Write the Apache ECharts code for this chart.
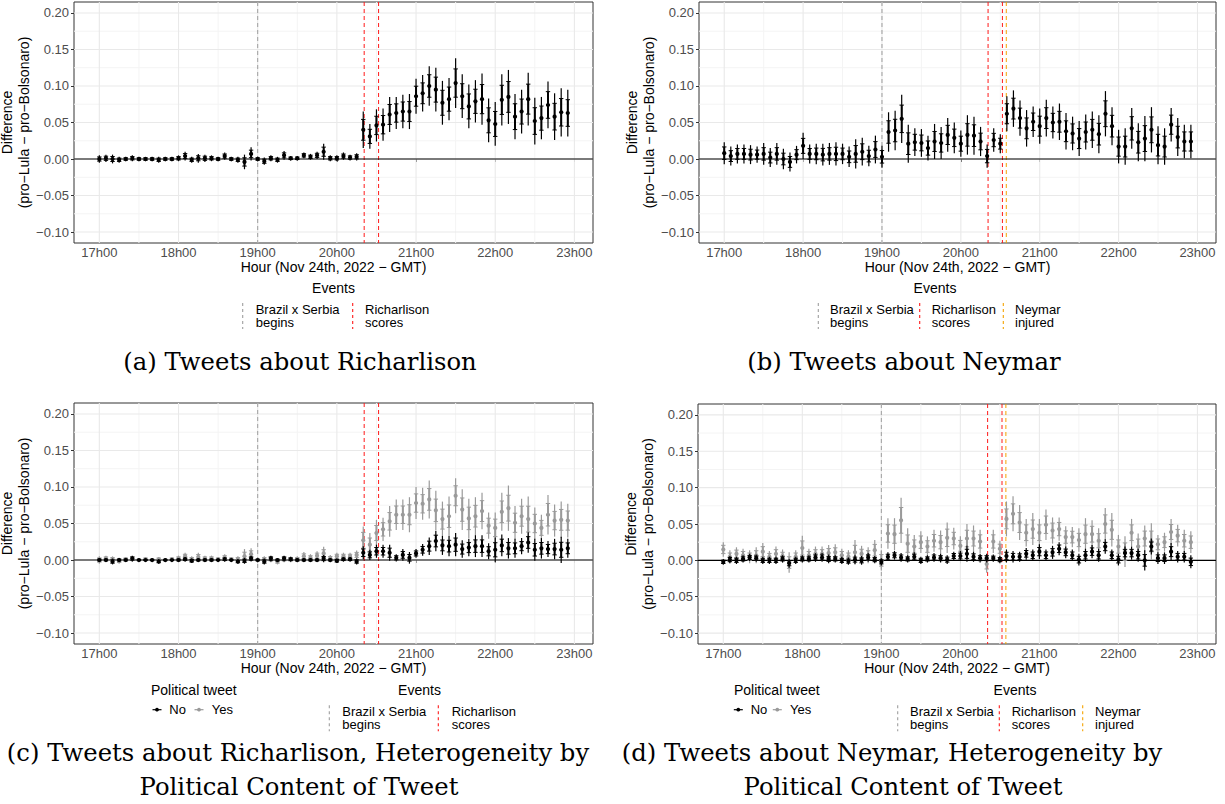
<!DOCTYPE html>
<html><head><meta charset="utf-8">
<script src="https://cdn.jsdelivr.net/npm/echarts@6.0.0/dist/echarts.min.js"></script>
<style>html,body{margin:0;padding:0;background:#fff;}#chart{width:1225px;height:804px;}</style>
</head><body><div id="chart"></div>
<script>
// ---------------- DATA ----------------
const times = [
"17:00","17:05","17:10","17:15","17:20","17:25","17:30","17:35","17:40","17:45","17:50","17:55",
"18:00","18:05","18:10","18:15","18:20","18:25","18:30","18:35","18:40","18:45","18:50","18:55",
"19:00","19:05","19:10","19:15","19:20","19:25","19:30","19:35","19:40","19:45","19:50","19:55",
"20:00","20:05","20:10","20:15","20:20","20:25","20:30","20:35","20:40","20:45","20:50","20:55",
"21:00","21:05","21:10","21:15","21:20","21:25","21:30","21:35","21:40","21:45","21:50","21:55",
"22:00","22:05","22:10","22:15","22:20","22:25","22:30","22:35","22:40","22:45","22:50","22:55"];

const xTicks = [17,18,19,20,21,22,23];
const xTickLabels = ["17h00","18h00","19h00","20h00","21h00","22h00","23h00"];
const xMinor = [17.5,18.5,19.5,20.5,21.5,22.5];
const yTicks = [-0.10,-0.05,0.00,0.05,0.10,0.15,0.20];
const yTickLabels = ["\u22120.10","\u22120.05","0.00","0.05","0.10","0.15","0.20"];
const yMinor = [-0.075,-0.025,0.025,0.075,0.125,0.175];

// event times (hours, GMT)
const eventBegins = [19.0];
const eventGoals = [20.345, 20.527];
const eventInjury = [20.576];
const eventLabels = ["Brazil x Serbia\nbegins","Richarlison\nscores","Neymar\ninjured"];

// (a) Richarlison
const richVal = [
0.000,0.001,0.000,-0.001,0.000,0.001,0.000,0.000,0.000,-0.001,0.000,0.000,
0.001,0.004,-0.001,0.001,0.001,0.001,0.000,0.004,0.000,-0.001,-0.004,0.007,
0.000,-0.003,0.001,-0.001,0.005,0.001,0.001,0.005,0.003,0.005,0.010,0.001,
0.001,0.004,0.002,0.003,0.040,0.031,0.046,0.047,0.061,0.063,0.065,0.065,
0.086,0.090,0.100,0.095,0.077,0.082,0.104,0.086,0.072,0.079,0.082,0.053,
0.048,0.081,0.085,0.058,0.065,0.082,0.052,0.056,0.074,0.058,0.064,0.063];
const richCi = [
0.005,0.005,0.006,0.004,0.003,0.004,0.003,0.003,0.003,0.004,0.003,0.003,
0.004,0.006,0.004,0.006,0.005,0.004,0.003,0.005,0.003,0.004,0.010,0.009,
0.003,0.005,0.004,0.004,0.006,0.003,0.003,0.004,0.004,0.005,0.011,0.004,
0.004,0.005,0.004,0.005,0.025,0.017,0.022,0.022,0.024,0.022,0.023,0.024,
0.024,0.025,0.027,0.030,0.030,0.029,0.034,0.030,0.030,0.029,0.035,0.030,
0.030,0.035,0.037,0.031,0.030,0.036,0.032,0.029,0.032,0.032,0.033,0.032];

// (b) Neymar
const neyVal = [
0.008,0.004,0.007,0.007,0.006,0.006,0.007,0.002,0.007,0.000,-0.004,0.006,
0.018,0.007,0.007,0.006,0.007,0.007,0.007,0.003,0.007,0.010,0.004,0.013,
0.003,0.037,0.039,0.055,0.021,0.023,0.022,0.015,0.024,0.022,0.033,0.029,
0.021,0.033,0.032,0.024,0.004,0.026,0.021,0.062,0.069,0.056,0.042,0.051,
0.045,0.056,0.050,0.051,0.038,0.035,0.028,0.037,0.040,0.034,0.062,0.045,
0.017,0.017,0.042,0.023,0.028,0.040,0.019,0.017,0.047,0.030,0.024,0.024];
const neyCi = [
0.015,0.013,0.013,0.013,0.013,0.011,0.015,0.013,0.015,0.014,0.013,0.012,
0.018,0.013,0.014,0.015,0.015,0.016,0.014,0.014,0.020,0.019,0.014,0.019,
0.015,0.027,0.027,0.033,0.026,0.019,0.019,0.017,0.024,0.022,0.023,0.021,
0.018,0.027,0.026,0.020,0.016,0.016,0.013,0.024,0.025,0.024,0.025,0.021,
0.024,0.025,0.022,0.025,0.025,0.023,0.024,0.024,0.025,0.026,0.031,0.026,
0.023,0.025,0.028,0.026,0.031,0.031,0.026,0.025,0.023,0.026,0.023,0.023];

// (c) Richarlison by political content
const richNoVal = [
0.000,0.000,-0.002,0.000,0.000,0.002,0.000,0.000,0.000,-0.002,0.000,0.000,
0.000,0.001,-0.001,0.000,0.000,0.000,0.000,0.001,0.000,-0.002,-0.001,0.002,
0.000,-0.002,0.002,0.000,0.002,0.001,0.000,0.000,0.000,0.000,0.002,0.000,
-0.001,0.001,0.001,-0.002,0.010,0.007,0.012,0.012,0.010,0.003,0.007,0.003,
0.009,0.014,0.019,0.026,0.020,0.019,0.021,0.015,0.017,0.019,0.019,0.012,
0.014,0.020,0.016,0.016,0.019,0.024,0.014,0.016,0.015,0.015,0.014,0.016];
const richNoCi = [
0.002,0.002,0.004,0.002,0.002,0.004,0.001,0.001,0.001,0.003,0.001,0.001,
0.002,0.003,0.003,0.002,0.002,0.002,0.001,0.003,0.001,0.003,0.004,0.004,
0.001,0.004,0.004,0.002,0.004,0.003,0.002,0.002,0.002,0.002,0.005,0.002,
0.003,0.003,0.003,0.004,0.009,0.007,0.009,0.009,0.011,0.005,0.008,0.008,
0.006,0.008,0.012,0.014,0.013,0.014,0.016,0.012,0.012,0.015,0.015,0.011,
0.017,0.015,0.014,0.013,0.011,0.014,0.015,0.014,0.011,0.014,0.018,0.013];
const richYesVal = [
0.000,0.002,0.001,-0.001,0.001,0.001,0.000,0.001,0.000,0.001,0.000,0.001,
0.002,0.005,0.001,0.004,0.002,0.002,0.001,0.003,0.001,0.001,0.005,0.008,
0.000,0.001,0.001,-0.002,0.001,0.001,0.001,0.005,0.003,0.006,0.009,0.002,
0.005,0.005,0.005,0.007,0.027,0.021,0.037,0.042,0.053,0.062,0.062,0.062,
0.078,0.077,0.083,0.068,0.056,0.060,0.088,0.069,0.057,0.060,0.067,0.047,
0.044,0.066,0.071,0.051,0.060,0.056,0.050,0.044,0.062,0.054,0.055,0.054];
const richYesCi = [
0.005,0.004,0.004,0.004,0.003,0.003,0.002,0.003,0.002,0.003,0.002,0.003,
0.004,0.005,0.004,0.006,0.004,0.004,0.003,0.005,0.003,0.004,0.010,0.008,
0.003,0.004,0.004,0.004,0.004,0.004,0.004,0.006,0.005,0.006,0.009,0.005,
0.005,0.005,0.005,0.006,0.019,0.016,0.018,0.016,0.021,0.021,0.021,0.024,
0.022,0.022,0.026,0.027,0.024,0.027,0.024,0.028,0.027,0.026,0.025,0.018,
0.021,0.026,0.031,0.023,0.024,0.031,0.022,0.018,0.027,0.022,0.025,0.023];

// (d) Neymar by political content
const neyNoVal = [
-0.002,0.001,0.000,0.002,0.004,0.003,0.000,0.000,0.000,0.002,-0.004,0.000,
0.002,0.002,0.004,0.004,0.002,0.002,0.000,-0.001,0.001,0.000,0.004,0.001,
-0.002,0.005,0.007,0.004,0.002,0.005,0.000,0.002,0.004,0.003,0.001,0.006,
0.006,0.009,0.005,0.003,0.003,0.003,0.001,0.006,0.005,0.005,0.009,0.007,
0.012,0.007,0.011,0.016,0.011,0.007,0.001,0.007,0.012,0.007,0.019,0.007,
0.001,0.010,0.010,0.007,0.000,0.019,0.003,0.003,0.012,0.005,0.005,-0.002];
const neyNoCi = [
0.004,0.005,0.005,0.005,0.005,0.005,0.005,0.005,0.005,0.005,0.006,0.005,
0.005,0.005,0.006,0.006,0.006,0.005,0.005,0.005,0.006,0.006,0.006,0.005,
0.005,0.006,0.006,0.006,0.005,0.006,0.005,0.005,0.006,0.006,0.006,0.006,
0.007,0.011,0.007,0.006,0.006,0.005,0.005,0.009,0.008,0.007,0.008,0.008,
0.010,0.008,0.009,0.009,0.008,0.008,0.008,0.009,0.009,0.009,0.010,0.008,
0.008,0.009,0.009,0.009,0.014,0.011,0.008,0.008,0.012,0.008,0.008,0.009];
const neyYesVal = [
0.015,0.005,0.009,0.007,0.005,0.007,0.012,0.005,0.009,0.006,-0.003,0.005,
0.017,0.007,0.009,0.009,0.010,0.011,0.007,0.005,0.011,0.009,0.007,0.014,
0.000,0.037,0.036,0.055,0.023,0.019,0.025,0.019,0.027,0.025,0.031,0.030,
0.020,0.030,0.030,0.026,-0.005,0.026,0.016,0.057,0.064,0.052,0.038,0.043,
0.038,0.049,0.041,0.043,0.032,0.032,0.028,0.036,0.036,0.027,0.050,0.042,
0.019,0.012,0.038,0.019,0.030,0.026,0.022,0.025,0.039,0.034,0.027,0.025];
const neyYesCi = [
0.010,0.009,0.009,0.009,0.009,0.011,0.012,0.008,0.010,0.009,0.014,0.009,
0.017,0.009,0.010,0.010,0.011,0.011,0.009,0.009,0.017,0.011,0.011,0.014,
0.014,0.021,0.022,0.031,0.021,0.016,0.015,0.014,0.015,0.016,0.021,0.015,
0.013,0.020,0.018,0.016,0.012,0.016,0.011,0.024,0.024,0.024,0.019,0.022,
0.019,0.021,0.018,0.016,0.015,0.014,0.016,0.022,0.019,0.017,0.022,0.023,
0.016,0.021,0.019,0.018,0.018,0.025,0.013,0.013,0.018,0.015,0.015,0.015];

// ---------------- STYLE / LAYOUT ----------------
const SANS = '"Liberation Sans", Arial, Helvetica, sans-serif';
const SERIF = '"DejaVu Serif", serif';
const X_MIN = 16.68, X_MAX = 23.235;
const Y_MIN = -0.115, Y_MAX = 0.215;
const INNER = 0.57;
const BLACK = '#000000', GREY = '#9a9a9a';
const EV_GREY = '#9e9e9e', EV_RED = '#ff1a1a', EV_ORANGE = '#f5a300';
const CAP = 24.3;

const grids = [
  {left:74, top:2, width:519, height:241},
  {left:699, top:2, width:517, height:241},
  {left:74, top:403, width:519, height:241},
  {left:698, top:404, width:518, height:240}
];

function toHour(t){ const p = t.split(':'); return +p[0] + (+p[1])/60; }
const hours = times.map(toHour);

function vlines(gi, values, color, width, dash, z){
  return {type:'custom', xAxisIndex:gi, yAxisIndex:gi, z, silent:true, animation:false, clip:false,
    data: values.map(v=>[v,0]), encode:{x:0,y:1},
    renderItem(params, api){
      const cs = params.coordSys;
      const x = api.coord([api.value(0), 0])[0];
      return {type:'line', shape:{x1:x, y1:cs.y, x2:x, y2:cs.y+cs.height},
        style:{stroke:color, lineWidth:width, lineDash:dash||null, fill:null}};
    }};
}
function hlines(gi, values, color, width, z){
  return {type:'custom', xAxisIndex:gi, yAxisIndex:gi, z, silent:true, animation:false, clip:false,
    data: values.map(v=>[17,v]), encode:{x:0,y:1},
    renderItem(params, api){
      const cs = params.coordSys;
      const y = api.coord([17, api.value(1)])[1];
      return {type:'line', shape:{x1:cs.x, y1:y, x2:cs.x+cs.width, y2:y},
        style:{stroke:color, lineWidth:width, fill:null}};
    }};
}
function bars(gi, vals, cis, color, z){
  return {type:'custom', xAxisIndex:gi, yAxisIndex:gi, z, silent:true, animation:false,
    data: hours.map((h,i)=>[h, vals[i], cis[i]]), encode:{x:0,y:1},
    renderItem(params, api){
      const x = api.value(0), v = api.value(1), ci = api.value(2);
      const p = api.coord([x, v]);
      const t = api.coord([x, v+ci])[1], b = api.coord([x, v-ci])[1];
      const it = api.coord([x, v+ci*INNER])[1], ib = api.coord([x, v-ci*INNER])[1];
      const cx = p[0];
      return {type:'group', children:[
        {type:'line', shape:{x1:cx,y1:t,x2:cx,y2:b}, style:{stroke:color, lineWidth:1.2, fill:null}},
        {type:'line', shape:{x1:cx,y1:it,x2:cx,y2:ib}, style:{stroke:color, lineWidth:2, fill:null}},
        {type:'line', shape:{x1:cx-2.2,y1:it,x2:cx+2.2,y2:it}, style:{stroke:color, lineWidth:1, fill:null}},
        {type:'line', shape:{x1:cx-2.2,y1:ib,x2:cx+2.2,y2:ib}, style:{stroke:color, lineWidth:1, fill:null}},
        {type:'circle', shape:{cx:cx, cy:p[1], r:2.1}, style:{fill:color, stroke:null}}
      ]};
    }};
}

const panels = [
  {series:[{v:richVal, c:richCi, col:BLACK}], events:[[eventBegins,EV_GREY],[eventGoals,EV_RED]]},
  {series:[{v:neyVal, c:neyCi, col:BLACK}], events:[[eventBegins,EV_GREY],[eventGoals,EV_RED],[eventInjury,EV_ORANGE]]},
  {series:[{v:richYesVal, c:richYesCi, col:GREY},{v:richNoVal, c:richNoCi, col:BLACK}], events:[[eventBegins,EV_GREY],[eventGoals,EV_RED]]},
  {series:[{v:neyYesVal, c:neyYesCi, col:GREY},{v:neyNoVal, c:neyNoCi, col:BLACK}], events:[[eventBegins,EV_GREY],[eventGoals,EV_RED],[eventInjury,EV_ORANGE]]}
];

function labelFor(list, labels, v){
  for (let i=0;i<list.length;i++) if (Math.abs(list[i]-v) < 1e-6) return labels[i];
  return '';
}

const xAxes = [], yAxes = [], series = [];
grids.forEach((g, gi) => {
  xAxes.push({type:'value', gridIndex:gi, min:X_MIN, max:X_MAX,
    axisLine:{show:false}, splitLine:{show:false}, minorTick:{show:false},
    axisTick:{show:true, length:3, lineStyle:{color:'#333', width:1}, customValues:xTicks},
    axisLabel:{customValues:xTicks, formatter:v=>labelFor(xTicks,xTickLabels,v), color:'#4d4d4d', fontSize:13, fontFamily:SANS, margin:3},
    name:'Hour (Nov 24th, 2022 \u2212 GMT)', nameLocation:'middle', nameGap:14,
    nameTextStyle:{color:'#000', fontSize:14, fontFamily:SANS}});
  yAxes.push({type:'value', gridIndex:gi, min:Y_MIN, max:Y_MAX,
    axisLine:{show:false}, splitLine:{show:false}, minorTick:{show:false},
    axisTick:{show:true, length:3, lineStyle:{color:'#333', width:1}, customValues:yTicks},
    axisLabel:{customValues:yTicks, formatter:v=>labelFor(yTicks,yTickLabels,v), color:'#4d4d4d', fontSize:13, fontFamily:SANS, margin:5},
    name:'Difference\n(pro\u2212Lula \u2212 pro\u2212Bolsonaro)', nameLocation:'middle', nameGap:33,
    nameTextStyle:{color:'#000', fontSize:14, lineHeight:17, fontFamily:SANS, align:'center'}});
  series.push(vlines(gi, xMinor, '#f4f4f4', 1, null, 1));
  series.push(hlines(gi, yMinor, '#f4f4f4', 1, 1));
  series.push(vlines(gi, xTicks, '#e9e9e9', 1.1, null, 1));
  series.push(hlines(gi, yTicks, '#e9e9e9', 1.1, 1));
  panels[gi].events.forEach(e => series.push(vlines(gi, e[0], e[1], 1, [4,3], 2)));
  series.push(hlines(gi, [0], '#000', 1.1, 2));
  panels[gi].series.forEach((s, k) => series.push(bars(gi, s.v, s.c, s.col, 3+k)));
});

// ---------------- LEGENDS & CAPTIONS (graphic) ----------------
const G = [];
function txt(x, y, text, size, align, family, lh){
  G.push({type:'text', silent:true, style:{x, y, text, fill:'#000',
    font: size + 'px ' + (family||SANS), fontSize:size, fontFamily:(family||SANS),
    align:align||'left', textAlign:align||'left', verticalAlign:'middle', textVerticalAlign:'middle',
    lineHeight: lh||size}});
}
function dashKey(x, y1, y2, color){
  G.push({type:'line', silent:true, shape:{x1:x, y1, x2:x, y2}, style:{stroke:color, lineWidth:1.1, lineDash:[3,3]}});
}
function ptKey(x, y, color){
  G.push({type:'line', silent:true, shape:{x1:x-4.5, y1:y, x2:x+4.5, y2:y}, style:{stroke:color, lineWidth:1.2}});
  G.push({type:'circle', silent:true, shape:{cx:x, cy:y, r:1.9}, style:{fill:color}});
}
function eventsLegend(cx, ty, items){
  txt(cx, ty, 'Events', 14, 'center');
  items.forEach(it => {
    dashKey(it.kx, ty+15, ty+41, it.col);
    txt(it.tx, ty+27.5, it.label, 13, 'left', SANS, 13);
  });
}
// (a)
eventsLegend(333.5, 288, [
  {kx:242.7, tx:255.7, col:EV_GREY, label:eventLabels[0]},
  {kx:352.7, tx:365, col:EV_RED, label:eventLabels[1]}]);
// (b)
eventsLegend(935, 288, [
  {kx:818.3, tx:830, col:EV_GREY, label:eventLabels[0]},
  {kx:919.7, tx:931.7, col:EV_RED, label:eventLabels[1]},
  {kx:1003.3, tx:1015, col:EV_ORANGE, label:eventLabels[2]}]);
// (c)
txt(151, 690.3, 'Political tweet', 14, 'left');
ptKey(157, 709.7, BLACK); txt(169.3, 709.7, 'No', 13, 'left');
ptKey(199, 709.7, GREY); txt(211.7, 709.7, 'Yes', 13, 'left');
eventsLegend(419.5, 690.3, [
  {kx:329.3, tx:342.3, col:EV_GREY, label:eventLabels[0]},
  {kx:438.3, tx:451.7, col:EV_RED, label:eventLabels[1]}]);
// (d)
txt(734, 690.3, 'Political tweet', 14, 'left');
ptKey(738.3, 709.7, BLACK); txt(750.7, 709.7, 'No', 13, 'left');
ptKey(777.3, 709.7, GREY); txt(790, 709.7, 'Yes', 13, 'left');
eventsLegend(1015, 690.3, [
  {kx:897.7, tx:910, col:EV_GREY, label:eventLabels[0]},
  {kx:999.3, tx:1011.7, col:EV_RED, label:eventLabels[1]},
  {kx:1082.7, tx:1095, col:EV_ORANGE, label:eventLabels[2]}]);

// captions
txt(300, 361, '(a) Tweets about Richarlison', CAP, 'center', SERIF);
txt(904, 361, '(b) Tweets about Neymar', CAP, 'center', SERIF);
txt(298, 752, '(c) Tweets about Richarlison, Heterogeneity by', CAP, 'center', SERIF);
txt(299, 786, 'Political Content of Tweet', CAP, 'center', SERIF);
txt(892, 752, '(d) Tweets about Neymar, Heterogeneity by', CAP, 'center', SERIF);
txt(903, 786, 'Political Content of Tweet', CAP, 'center', SERIF);

const chart = echarts.init(document.getElementById('chart'), null, {renderer:'svg', width:1225, height:804});
chart.setOption({
  animation:false,
  backgroundColor:'#ffffff',
  grid: grids.map(g => Object.assign({show:true, borderColor:'#333333', borderWidth:1, backgroundColor:'#ffffff', containLabel:false, outerBoundsMode:'none'}, g)),
  xAxis: xAxes,
  yAxis: yAxes,
  series: series,
  graphic: {elements: G}
});
</script>
</body></html>
